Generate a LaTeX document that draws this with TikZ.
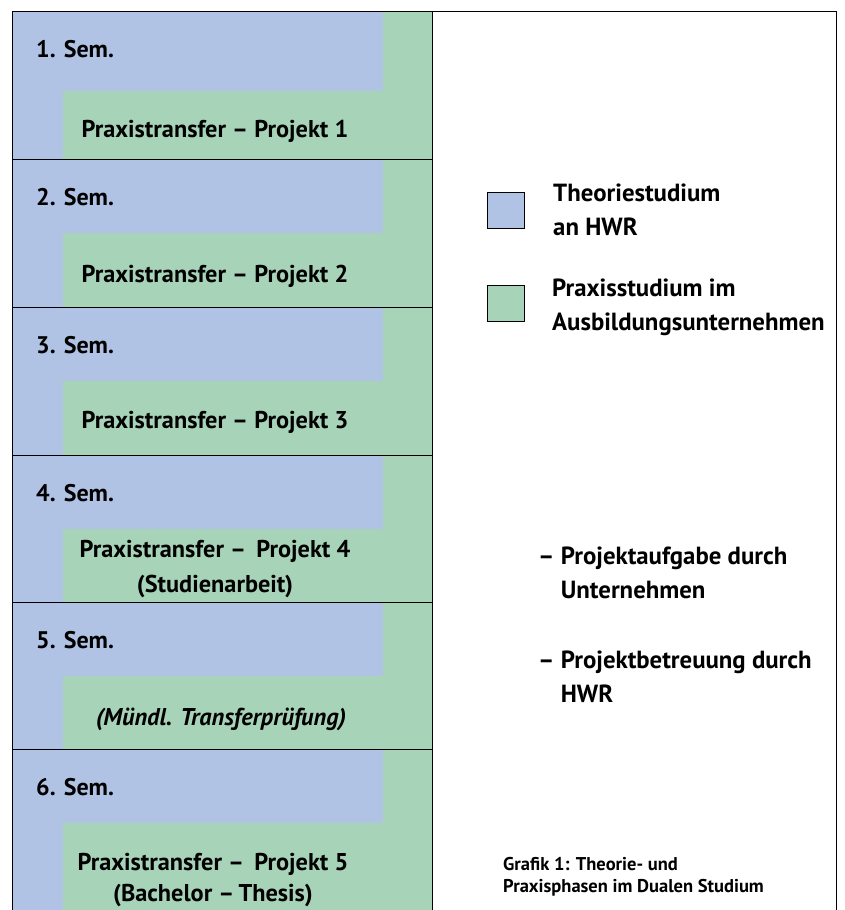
\documentclass[tikz,border=0pt]{standalone}
\usepackage{fontspec}
\setmainfont{PT Sans}
\definecolor{theorie}{RGB}{176,195,228}
\definecolor{praxis}{RGB}{167,212,185}
\tikzset{
    semlabel/.style={anchor=base west, inner sep=0pt, font=\bfseries\fontsize{24}{34}\selectfont},
    transfer/.style={anchor=base, inner sep=0pt, align=center, font=\bfseries\fontsize{24.3}{35}\selectfont},
    legendbox/.style={draw, thin, minimum width=37pt, minimum height=36pt, inner sep=0pt},
    sidetext/.style={anchor=base west, inner sep=0pt, align=left, font=\bfseries\fontsize{24.8}{34}\selectfont},
}

\begin{document}
\begin{tikzpicture}[x=1pt, y=-1pt]
\useasboundingbox (0,0) rectangle (845,910);

% Draw semester blocks.
\foreach \i/\top/\bot/\cut in {1/11/159/91, 2/159/307/233, 3/307/455/381, 4/455/602/529, 5/602/749/676, 6/749/910/823}
{
    \fill[praxis] (12.5, \top) rectangle (432.5, \bot);
    \fill[theorie] (12.5, \top) rectangle (383, \cut);
    \fill[theorie] (12.5, \top) rectangle (63, \bot);
    \node[semlabel] (sem\i) at (36, \top+46) {\i. Sem.};
}

% Draw separators and frame.
\foreach \y in {159, 307, 455, 602, 749}
    \draw[semithick] (12.5, \y) -- (432.5, \y);
\draw[semithick] (12.5, 910) -- (12.5, 11) -- (836, 11) -- (836, 910);
\draw[semithick] (432.5, 11) -- (432.5, 910);

% Draw practice transfer texts (base = last line).
\node[transfer] (proj1) at (215, 137) {Praxistransfer – Projekt 1};
\node[transfer] (proj2) at (215, 282) {Praxistransfer – Projekt 2};
\node[transfer] (proj3) at (215, 428) {Praxistransfer – Projekt 3};
\node[transfer] (proj4) at (215, 592) {Praxistransfer –\, Projekt 4\\(Studienarbeit)};
\node[transfer] (proj5) at (221, 725) {\itshape(Mündl. Transferprüfung)};
\node[transfer] (proj6) at (213, 901) {Praxistransfer –\, Projekt 5\\[-4pt](Bachelor –\,Thesis)};

% Draw legend.
\node[legendbox, fill=theorie] (boxT) at (506, 210) {};
\node[legendbox, fill=praxis] (boxP) at (506, 303.5) {};
\node[sidetext] (legT) at (553, 235) {Theoriestudium\\an HWR};
\node[sidetext] (legP) at (552, 330) {Praxisstudium im\\Ausbildungsunternehmen};

% Draw project notes.
\node[sidetext] (noteA) at (538, 598) {– Projektaufgabe durch\\\hphantom{– }Unternehmen};
\node[sidetext] (noteB) at (538, 702) {– Projektbetreuung durch\\\hphantom{– }HWR};

% Draw caption.
\node[sidetext, font=\bfseries\fontsize{18.5}{22}\selectfont] (caption) at (503, 892)
    {Grafik 1: Theorie- und\\Praxisphasen im Dualen Studium};

\end{tikzpicture}
\end{document}
